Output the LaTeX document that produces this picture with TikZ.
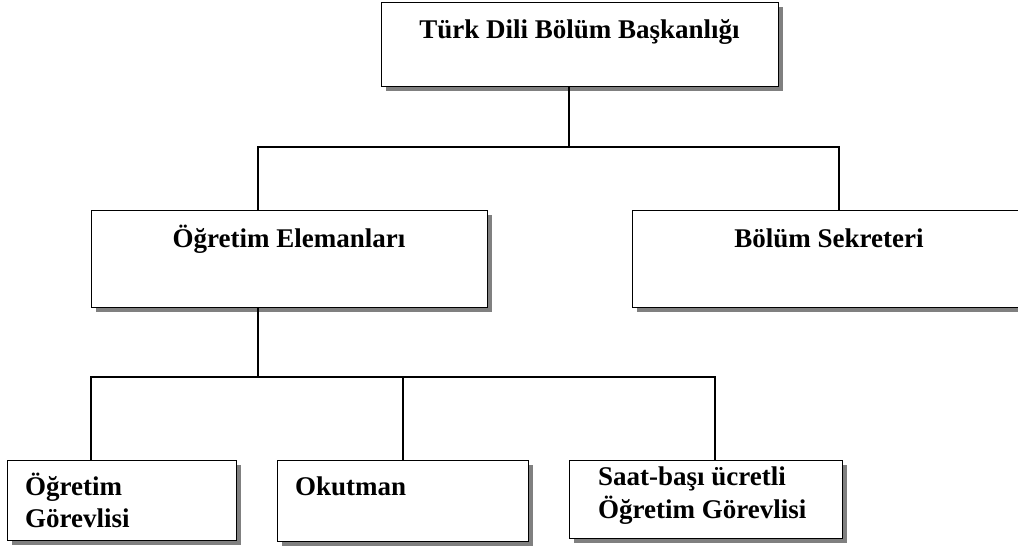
\documentclass[tikz,border=0pt]{standalone}
\usepackage{fontspec}
\setmainfont{Liberation Serif}
\usetikzlibrary{shadows}
\begin{document}
\begin{tikzpicture}[x=1pt,y=-1pt,
  unitbox/.style={draw=black, line width=1.2pt, fill=white, rectangle, inner sep=0pt,
    anchor=north west, drop shadow={shadow xshift=4pt, shadow yshift=-4pt, fill=gray, opacity=1}},
  title/.style={font=\fontsize{27}{32}\selectfont\bfseries, inner sep=0pt, anchor=base},
  ltitle/.style={font=\fontsize{27}{32}\selectfont\bfseries, inner sep=0pt, anchor=base west},
  link/.style={draw=black, line width=1.2pt}]
\useasboundingbox (0,0) rectangle (1018,550);

% boxes
\node[unitbox, minimum width=397pt, minimum height=84pt] (head) at (381,2) {};
\node[unitbox, minimum width=396pt, minimum height=97pt] (staff) at (91,210) {};
\node[unitbox, minimum width=394pt, minimum height=97pt] (secr) at (632,210) {};
\node[unitbox, minimum width=229pt, minimum height=80pt] (lect) at (7,460) {};
\node[unitbox, minimum width=251pt, minimum height=81pt] (inst) at (277,460) {};
\node[unitbox, minimum width=273pt, minimum height=78pt] (hourly) at (569,460) {};

% labels
\node[title] (headt) at (579.5,38) {Türk Dili Bölüm Başkanlığı};
\node[title] (stafft) at (289,247) {Öğretim Elemanları};
\node[title] (secrt) at (829,247) {Bölüm Sekreteri};
\node[ltitle] (lectt1) at (25,495) {Öğretim};
\node[ltitle] (lectt2) at (25,527) {Görevlisi};
\node[ltitle] (instt) at (295,495) {Okutman};
\node[ltitle] (hourlyt1) at (598,485) {Saat-başı ücretli};
\node[ltitle] (hourlyt2) at (598,518) {Öğretim Görevlisi};

% bus junctions
\coordinate (j1) at (569,147);
\coordinate (j1l) at (258,147);
\coordinate (j1r) at (839,147);
\coordinate (j2) at (258,377);
\coordinate (j2l) at (91,377);
\coordinate (j2m) at (403,377);
\coordinate (j2r) at (715,377);

% connectors
\draw[link] (head.south -| j1) -- (j1);
\draw[link] (staff.north -| j1l) -- (j1l) -- (j1r) -- (secr.north -| j1r);
\draw[link] (staff.south -| j2) -- (j2);
\draw[link] (lect.north -| j2l) -- (j2l) -- (j2r) -- (hourly.north -| j2r);
\draw[link] (inst.north -| j2m) -- (j2m);
\end{tikzpicture}
\end{document}
